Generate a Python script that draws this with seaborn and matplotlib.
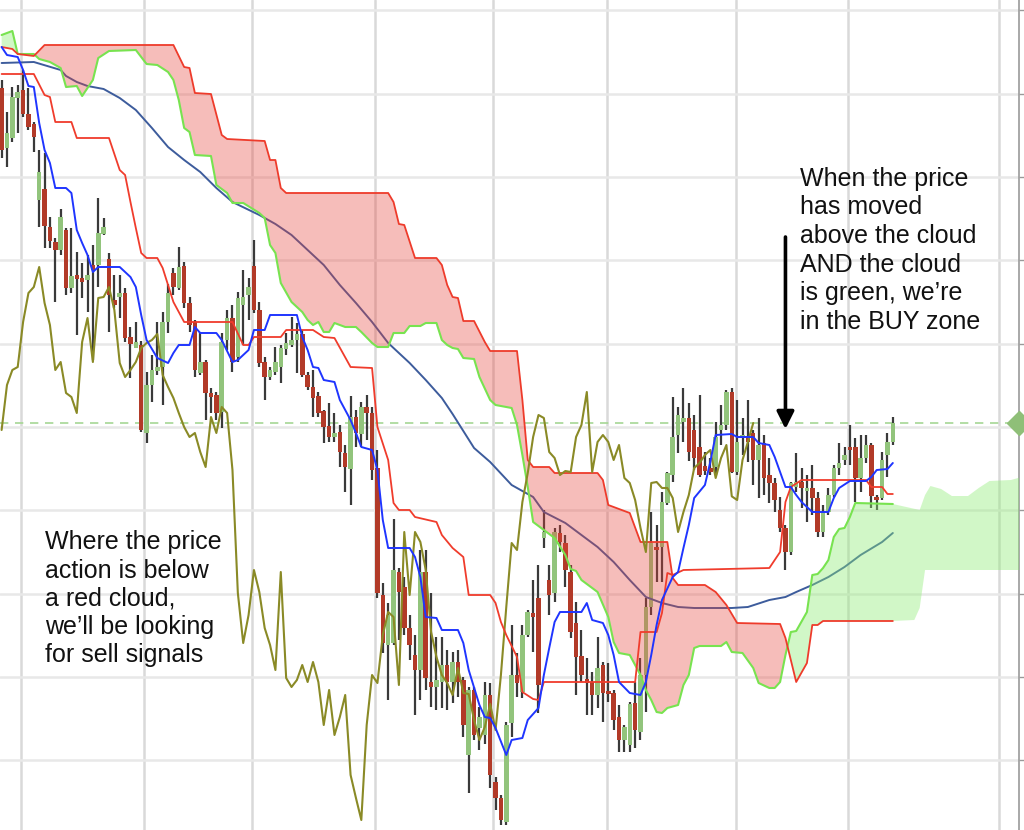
import numpy as np
import matplotlib
matplotlib.use("Agg")
import matplotlib.pyplot as plt
import matplotlib.transforms as mtransforms
import seaborn as sns

# candles, one per bar (bar index 0..166), prices in chart units
opens = [221.7, 203.7, 206.7, 218.7, 221.1, 213.9, 210.9, 188.1, 191.4, 180.0,
         175.5, 173.1, 179.1, 161.7, 165.6, 164.7, 164.1, 168.6, 168.6, 177.9,
         170.4, 158.1, 159.0, 160.2, 147.0, 143.7, 144.6, 118.2, 132.6, 136.8,
         138.0, 151.5, 166.2, 161.7, 168.3, 157.2, 151.5, 136.2, 139.5, 130.2,
         129.6, 124.5, 146.1, 152.7, 141.0, 156.6, 159.6, 168.3, 155.1, 139.5,
         135.0, 136.5, 138.0, 143.4, 144.6, 146.1, 147.9, 135.6, 132.0, 129.3,
         124.8, 120.3, 117.0, 118.5, 112.2, 107.4, 123.0, 117.9, 126.0, 124.2,
         107.7, 69.6, 54.6, 55.2, 76.5, 72.0, 59.7, 51.6, 47.1, 76.5,
         43.5, 42.0, 43.5, 48.6, 43.5, 49.5, 44.1, 21.6, 41.1, 29.7,
         27.6, 39.6, 13.5, 8.7, 1.5, 31.2, 45.6, 40.5, 57.6, 64.2,
         68.7, 86.7, 74.1, 70.2, 88.2, 85.2, 76.5, 61.2, 51.3, 44.4,
         43.5, 39.6, 48.6, 40.5, 40.2, 33.0, 26.1, 24.6, 37.2, 28.5,
         45.6, 66.0, 84.0, 84.0, 97.2, 105.6, 117.6, 121.5, 122.7, 119.1,
         114.0, 108.3, 107.7, 108.0, 119.1, 120.6, 130.5, 106.5, 116.7, 117.0,
         118.2, 110.1, 115.2, 105.6, 103.2, 95.1, 89.7, 82.5, 102.0, 103.5,
         100.8, 101.7, 98.7, 88.5, 94.5, 99.6, 107.7, 110.1, 114.0, 114.0,
         104.7, 110.7, 114.6, 99.0, 98.7, 111.6, 115.5]
highs = [224.1, 214.5, 222.0, 222.6, 227.1, 221.7, 211.5, 203.1, 202.2, 183.0,
         176.7, 185.4, 179.7, 179.7, 172.5, 169.2, 171.6, 174.6, 188.7, 182.7,
         172.2, 165.6, 165.6, 161.7, 150.0, 151.5, 145.8, 136.5, 141.6, 151.5,
         154.5, 162.9, 167.7, 174.0, 169.5, 159.0, 152.1, 148.5, 140.1, 131.7,
         130.5, 148.2, 155.1, 156.6, 160.5, 167.1, 164.7, 176.1, 157.5, 141.0,
         138.0, 144.0, 144.6, 148.2, 153.0, 151.2, 149.1, 136.5, 137.1, 130.5,
         125.1, 127.2, 124.2, 120.6, 114.6, 129.3, 125.1, 127.5, 129.6, 126.0,
         113.1, 73.2, 67.2, 92.4, 77.7, 75.0, 63.6, 57.6, 83.1, 83.1,
         70.2, 57.0, 57.0, 53.1, 52.5, 53.1, 45.0, 42.0, 42.0, 36.0,
         43.5, 43.2, 15.0, 9.6, 31.5, 60.6, 52.2, 60.6, 65.1, 74.1,
         78.6, 95.1, 78.6, 89.7, 90.6, 87.6, 78.6, 67.5, 59.1, 50.7,
         46.5, 57.0, 49.5, 49.2, 41.1, 36.6, 30.6, 37.5, 43.5, 50.7,
         68.7, 94.5, 90.6, 100.5, 106.5, 129.0, 126.0, 131.7, 127.2, 123.6,
         129.6, 112.5, 110.7, 121.5, 126.6, 131.1, 131.7, 128.1, 122.7, 128.1,
         119.1, 122.7, 117.6, 110.7, 104.7, 99.0, 90.6, 103.5, 112.2, 107.7,
         105.6, 108.6, 100.5, 96.6, 101.7, 108.6, 115.2, 114.0, 120.6, 116.7,
         117.6, 117.6, 115.2, 99.6, 112.5, 118.2, 123.0]
lows = [200.7, 198.0, 205.5, 208.2, 213.0, 209.1, 202.5, 180.0, 173.7, 173.7,
        157.5, 171.6, 159.6, 160.2, 147.6, 158.7, 154.5, 140.1, 162.0, 177.6,
        148.5, 155.7, 152.7, 145.5, 134.7, 143.7, 118.5, 115.2, 127.5, 135.6,
        126.6, 148.2, 159.6, 161.1, 155.7, 148.5, 135.0, 135.6, 122.1, 124.2,
        122.1, 119.7, 143.1, 136.5, 139.5, 144.6, 152.1, 154.2, 138.0, 128.1,
        134.1, 135.6, 133.2, 141.6, 144.0, 136.2, 135.0, 131.1, 123.0, 123.0,
        115.2, 115.5, 115.5, 108.0, 100.5, 96.6, 114.0, 114.0, 116.1, 104.1,
        68.7, 52.2, 38.1, 54.6, 56.1, 57.6, 50.1, 33.6, 38.1, 41.1,
        36.0, 35.1, 35.7, 35.1, 37.2, 39.0, 27.0, 10.2, 26.1, 23.1,
        25.0, 11.7, 5.1, 0.6, 0.6, 27.0, 39.0, 38.7, 57.0, 52.5,
        34.2, 83.7, 63.6, 67.5, 82.5, 72.0, 56.7, 39.6, 43.5, 33.6,
        33.6, 35.7, 31.5, 37.5, 29.1, 22.5, 22.5, 22.5, 23.7, 26.1,
        34.5, 63.6, 73.5, 73.5, 96.6, 103.5, 112.2, 115.5, 109.8, 107.1,
        105.0, 105.6, 105.6, 105.6, 114.6, 119.1, 106.2, 105.6, 111.6, 109.5,
        102.6, 98.7, 99.6, 97.2, 94.5, 88.5, 77.1, 81.6, 100.5, 95.7,
        91.5, 93.6, 87.0, 87.0, 93.6, 99.0, 105.6, 108.6, 108.6, 97.5,
        100.5, 109.2, 95.7, 95.1, 98.1, 105.0, 114.6]
closes = [203.1, 208.2, 219.0, 220.5, 213.9, 210.0, 207.0, 196.5, 180.3, 175.8,
          173.1, 183.0, 161.7, 165.3, 164.4, 163.5, 165.6, 167.1, 178.2, 180.0,
          159.6, 156.6, 160.2, 146.7, 144.9, 145.5, 119.1, 132.6, 137.1, 138.0,
          151.5, 160.2, 162.0, 168.0, 157.2, 150.6, 137.1, 139.5, 130.2, 129.0,
          124.2, 145.5, 152.7, 139.5, 158.7, 159.0, 162.0, 155.1, 139.2, 135.0,
          137.1, 139.5, 143.7, 145.2, 146.1, 147.9, 135.6, 132.0, 128.7, 124.2,
          120.0, 117.0, 118.2, 112.5, 108.0, 123.0, 118.2, 126.0, 124.2, 107.1,
          70.2, 55.2, 63.6, 77.1, 70.5, 59.7, 54.6, 47.1, 76.5, 44.7,
          42.0, 44.1, 48.6, 43.5, 49.5, 43.5, 30.6, 41.1, 27.6, 33.0,
          39.6, 15.6, 8.7, 2.1, 30.6, 45.6, 43.2, 57.6, 64.5, 63.0,
          42.6, 88.5, 69.6, 88.5, 85.5, 77.1, 58.5, 51.0, 45.6, 43.2,
          39.6, 47.7, 40.2, 39.9, 32.1, 26.1, 30.0, 36.9, 29.1, 45.6,
          66.0, 85.2, 83.1, 97.5, 106.2, 117.0, 123.6, 122.7, 112.5, 110.7,
          105.6, 106.8, 106.5, 117.0, 120.6, 130.5, 106.5, 115.5, 117.6, 115.5,
          110.1, 114.6, 104.7, 103.2, 98.1, 89.7, 82.5, 103.2, 103.5, 101.7,
          101.7, 98.7, 88.5, 94.5, 99.6, 107.7, 109.2, 111.6, 113.1, 104.7,
          110.7, 114.6, 99.2, 98.1, 110.1, 115.5, 121.2]

# tenkan-sen (conversion line)
tenkan_idx = [0, 1, 3, 4, 5, 6, 7, 8, 9, 10, 12, 13, 14, 15, 16, 17, 18, 22, 24, 25,
              26, 27, 29, 31, 32, 33, 35, 36, 37, 40, 41, 43, 44, 46, 47, 49, 50, 55, 56, 57,
              58, 59, 60, 62, 63, 65, 66, 67, 69, 70, 71, 72, 76, 77, 78, 79, 81, 82, 85, 86,
              87, 89, 90, 91, 92, 94, 95, 97, 98, 100, 101, 102, 103, 104, 108, 109, 110, 112, 113, 114,
              115, 117, 119, 120, 121, 122, 123, 125, 126, 127, 128, 129, 131, 132, 133, 136, 137, 140, 141, 143,
              144, 145, 146, 147, 148, 149, 151, 154, 155, 156, 158, 161, 162, 163, 165, 166]
tenkan = [234.0, 231.6, 231.0, 227.1, 222.3, 222.0, 211.2, 203.1, 199.2, 191.7,
          191.7, 190.2, 179.1, 175.2, 171.6, 166.5, 168.0, 168.0, 165.0, 162.0,
          153.6, 146.1, 140.7, 139.2, 142.2, 144.6, 144.6, 150.0, 148.2, 148.2,
          146.1, 139.5, 140.1, 143.1, 149.1, 149.1, 153.6, 153.6, 147.0, 143.1,
          138.0, 137.7, 134.1, 133.5, 128.1, 122.1, 118.2, 114.0, 113.1, 107.1,
          92.1, 83.7, 83.7, 81.0, 75.0, 63.0, 62.7, 59.1, 59.1, 55.2,
          47.1, 36.6, 33.0, 32.7, 29.7, 21.6, 26.1, 26.7, 32.1, 35.7,
          45.6, 53.7, 61.5, 64.5, 64.5, 67.2, 62.1, 61.2, 57.6, 51.6,
          43.5, 40.2, 39.6, 43.5, 51.6, 60.6, 68.1, 75.0, 76.5, 83.7,
          90.6, 98.7, 102.6, 109.5, 117.6, 117.9, 117.0, 117.0, 115.2, 114.6,
          111.0, 106.5, 102.0, 102.0, 99.6, 97.5, 94.5, 94.5, 98.7, 101.7,
          103.8, 103.8, 105.0, 107.1, 107.4, 109.2]

# kijun-sen (base line)
kijun_idx = [0, 6, 8, 9, 10, 13, 14, 20, 22, 23, 24, 25, 26, 27, 29, 30, 32, 34, 43, 45,
             46, 47, 52, 53, 58, 60, 62, 65, 69, 70, 72, 73, 74, 76, 77, 81, 82, 84, 86, 87,
             91, 92, 93, 94, 96, 97, 99, 100, 101, 118, 119, 122, 123, 124, 125, 127, 143, 145, 146, 147,
             149, 161, 162, 164, 165, 166]
kijun = [225.9, 225.9, 219.6, 219.0, 211.5, 211.5, 206.7, 206.7, 197.1, 195.6,
         187.5, 179.7, 172.2, 170.7, 170.7, 167.7, 157.5, 151.5, 151.5, 144.6,
         144.6, 147.0, 147.0, 149.1, 149.1, 147.0, 146.7, 138.0, 137.7, 120.0,
         110.1, 97.2, 95.1, 95.1, 93.0, 91.5, 87.6, 83.7, 81.0, 69.6,
         69.6, 67.2, 61.5, 57.6, 51.0, 40.5, 38.4, 38.1, 43.5, 43.5,
         58.5, 58.5, 64.2, 76.2, 75.6, 77.1, 77.7, 82.5, 97.5, 102.0,
         104.1, 104.1, 102.0, 102.0, 99.9, 99.9]

# senkou span A / B (cloud), already shifted forward
span_a_idx = [0, 2, 3, 6, 7, 9, 11, 12, 14, 15, 17, 18, 20, 25, 27, 29, 31, 32, 33, 34,
              35, 36, 39, 40, 42, 43, 45, 48, 49, 50, 51, 52, 54, 56, 57, 58, 59, 60, 61, 62,
              64, 66, 67, 69, 70, 72, 73, 75, 76, 78, 79, 81, 82, 83, 84, 85, 86, 88, 89, 91,
              92, 95, 96, 97, 98, 99, 101, 103, 105, 106, 107, 108, 111, 113, 114, 115, 117, 119, 120, 121,
              122, 123, 124, 126, 127, 128, 129, 130, 134, 135, 136, 138, 140, 141, 143, 144, 145, 146, 147, 148,
              150, 151, 152, 153, 154, 155, 156, 157, 158, 159, 166, 171, 172, 173, 175, 177, 180, 182, 184, 188,
              190]
span_a = [237.6, 238.8, 231.9, 231.9, 230.4, 229.5, 227.7, 222.0, 222.3, 219.3,
          224.1, 230.7, 232.8, 233.1, 228.9, 228.6, 226.5, 224.1, 218.1, 209.7,
          208.5, 201.6, 201.3, 192.6, 190.2, 187.2, 187.2, 184.2, 182.7, 174.6,
          172.2, 163.2, 157.5, 154.5, 152.1, 150.6, 151.5, 148.5, 148.5, 151.2,
          150.0, 150.0, 148.5, 145.2, 144.0, 144.0, 148.2, 148.2, 150.3, 150.3,
          151.2, 151.2, 146.1, 144.6, 143.7, 143.4, 140.7, 140.4, 135.0, 128.1,
          126.6, 125.7, 120.6, 111.6, 102.0, 91.5, 89.1, 86.7, 81.6, 77.4,
          76.8, 74.1, 70.5, 63.0, 55.5, 52.2, 51.6, 45.6, 41.1, 38.1,
          34.5, 34.2, 35.7, 36.6, 42.6, 45.6, 53.7, 54.3, 54.3, 55.5,
          52.5, 52.2, 47.7, 43.2, 41.7, 41.7, 43.5, 51.6, 58.5, 58.8,
          64.5, 75.6, 75.9, 77.7, 80.1, 87.0, 89.4, 89.7, 93.0, 97.2,
          96.9, 95.1, 99.6, 102.3, 101.4, 99.3, 99.3, 101.7, 103.8, 104.1,
          105.0]
span_b_idx = [0, 2, 3, 6, 8, 32, 34, 35, 36, 39, 41, 42, 49, 50, 51, 52, 53, 72, 73, 74,
              75, 77, 81, 82, 83, 84, 85, 86, 88, 90, 91, 96, 97, 98, 99, 102, 103, 111, 112, 113,
              117, 119, 124, 125, 126, 131, 133, 135, 137, 145, 146, 148, 150, 151, 152, 153, 166, 170, 171, 172,
              190]
span_b = [234.0, 233.4, 231.9, 231.3, 234.6, 234.6, 228.0, 227.7, 220.2, 219.9,
          207.6, 206.4, 205.8, 200.1, 200.1, 191.7, 190.2, 190.2, 187.5, 180.9,
          180.6, 170.7, 170.7, 168.6, 162.6, 159.0, 158.7, 151.8, 151.8, 145.5,
          142.8, 142.8, 128.1, 110.1, 108.0, 108.0, 106.2, 106.2, 104.1, 96.6,
          94.2, 85.5, 85.5, 74.7, 72.6, 72.6, 70.5, 66.6, 61.2, 60.9,
          56.7, 43.5, 49.2, 60.6, 60.6, 61.8, 61.8, 62.1, 65.7, 77.1,
          77.1]

# slow moving average
sma_idx = [0, 6, 11, 12, 14, 16, 19, 22, 25, 28, 31, 34, 37, 40, 43, 48, 51, 54, 57, 60,
           63, 66, 69, 72, 76, 79, 82, 84, 88, 91, 95, 99, 101, 105, 108, 111, 114, 117, 120, 123,
           126, 129, 133, 136, 139, 143, 146, 148, 151, 154, 157, 160, 164, 166]
sma = [229.2, 229.5, 227.1, 225.3, 223.5, 222.3, 221.4, 218.7, 215.1, 209.7,
       204.0, 200.1, 196.5, 191.7, 187.5, 183.6, 180.9, 177.6, 173.1, 168.6,
       162.6, 157.2, 151.5, 145.2, 139.2, 134.1, 128.7, 123.9, 113.7, 109.5,
       102.6, 99.0, 94.5, 91.2, 87.6, 84.0, 79.5, 74.1, 69.0, 67.2,
       66.0, 65.7, 65.7, 65.7, 66.0, 68.1, 69.0, 70.5, 72.6, 75.0,
       78.0, 81.6, 85.5, 88.2]

chikou_shift = 26
day_ticks = [3.7, 26.6, 46.7, 69.6, 91.6, 112.7, 136.7, 157.7, 185.7]
price_grid = [20, 45, 70, 95, 120, 145, 170, 195, 220, 245]

text_sell = "Where the price\naction is below\na red cloud,\nwe\u2019ll be looking\nfor sell signals"
text_buy = "When the price\nhas moved\nabove the cloud\nAND the cloud\nis green, we\u2019re\nin the BUY zone"

sns.set_theme(style="white")
plt.rcParams["font.family"] = ["Liberation Sans", "DejaVu Sans"]

fig = plt.figure(figsize=(10.24, 8.3), dpi=100)
ax = fig.add_axes([0, 0, 1019 / 1024, 1])

n = len(closes)
idx = np.arange(n)
o = np.array(opens)
c = np.array(closes)
up = c >= o
body_lo = np.minimum(o, c)
body_h = np.maximum(np.abs(c - o), 0.8)

# wicks and bodies
ax.vlines(idx, lows, highs, color="#3a3a3a", lw=1.6, zorder=2)
ax.bar(idx, body_h, bottom=body_lo, width=0.84,
       color=np.where(up, "#92c47c", "#b23a28"), linewidth=0, zorder=2.2)

# cloud fill (shared grid for the two spans)
grid = np.union1d(span_a_idx, span_b_idx)
a_f = np.interp(grid, span_a_idx, span_a)
b_f = np.interp(grid, span_b_idx, span_b)
ax.fill_between(grid, a_f, b_f, where=b_f >= a_f, interpolate=True,
                color="#e8433a", alpha=0.35, linewidth=0, zorder=3)
ax.fill_between(grid, a_f, b_f, where=a_f >= b_f, interpolate=True,
                color="#8eed75", alpha=0.4, linewidth=0, zorder=3)

last = n - 1
a_i = np.array(span_a_idx)
b_i = np.array(span_b_idx)
sns.lineplot(x=a_i[a_i <= last], y=np.array(span_a)[a_i <= last], ax=ax,
             color="#78e350", lw=1.5, estimator=None, zorder=4)
sns.lineplot(x=b_i[b_i <= last], y=np.array(span_b)[b_i <= last], ax=ax,
             color="#ee3b2b", lw=1.3, estimator=None, zorder=4)

sns.lineplot(x=sma_idx, y=sma, ax=ax, color="#3d5c9c", lw=1.4,
             estimator=None, zorder=2.8)
sns.lineplot(x=idx[:n - chikou_shift], y=c[chikou_shift:], ax=ax,
             color="#8a8a26", lw=1.5, estimator=None, zorder=4)
sns.lineplot(x=kijun_idx, y=kijun, ax=ax, color="#f03c2c", lw=1.3,
             estimator=None, zorder=4.1)
sns.lineplot(x=tenkan_idx, y=tenkan, ax=ax, color="#1f35ff", lw=1.4,
             estimator=None, zorder=4.2)

# last price marker line and tag
ax.axhline(closes[-1], color="#a6d795", lw=1.2, ls=(0, (5, 4)), zorder=1.5)
trans = mtransforms.blended_transform_factory(ax.transAxes, ax.transData)
ax.plot([1.0], [closes[-1]], marker="D", ms=12, color="#8fbf78",
        transform=trans, clip_on=False, zorder=6)

# arrow to the buy zone
ax.annotate("", xy=(146.0, 119.4), xytext=(146.0, 177.0),
            arrowprops=dict(arrowstyle="-|>", color="black", lw=2.6,
                            mutation_scale=26, shrinkA=0, shrinkB=0),
            zorder=6)

ax.text(0.044, 0.361, text_sell, transform=ax.transAxes, fontsize=18,
        va="top", ha="left", color="#111111", linespacing=1.22, zorder=7)
ax.text(0.785, 0.799, text_buy, transform=ax.transAxes, fontsize=18,
        va="top", ha="left", color="#111111", linespacing=1.24, zorder=7)

ax.set_xlim(-0.3, 189.5)
ax.set_ylim(-0.9, 248.1)
ax.set_xticks(day_ticks)
ax.set_yticks(price_grid)
ax.xaxis.grid(True, color="#d9d9d9", lw=1.8)
ax.yaxis.grid(True, color="#e8e8e8", lw=1.8)
ax.set_axisbelow(True)
ax.yaxis.tick_right()
ax.tick_params(axis="y", right=True, length=4, width=1, color="#999999",
               labelright=False, labelleft=False, direction="out")
ax.tick_params(axis="x", bottom=False, labelbottom=False)
for side in ["left", "top", "bottom"]:
    ax.spines[side].set_visible(False)
ax.spines["right"].set_color("#9a9a9a")
ax.spines["right"].set_linewidth(1.2)
ax.set_xlabel("")
ax.set_ylabel("")

fig.savefig("out.png", dpi=100)
